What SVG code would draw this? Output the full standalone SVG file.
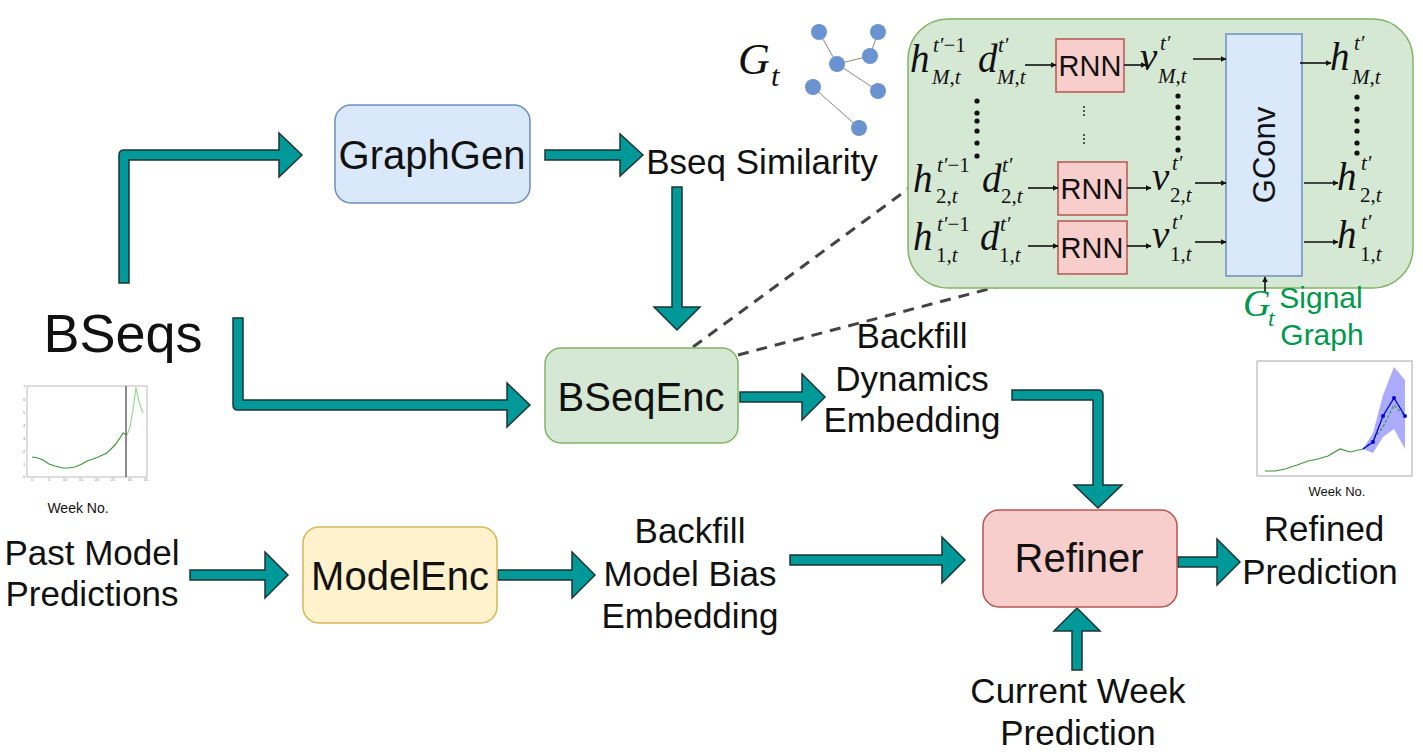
<svg xmlns="http://www.w3.org/2000/svg" width="1423" height="755" viewBox="0 0 1423 755">
<style>
.lbl{font-family:"Liberation Sans",Arial,sans-serif;font-size:35px;fill:#111;text-anchor:middle}
.box{font-family:"Liberation Sans",Arial,sans-serif;font-size:40px;fill:#111;text-anchor:middle}
.ar{fill:#009999;stroke:#1d3535;stroke-width:1.5;stroke-linejoin:miter}
.m{font-family:"Liberation Serif","DejaVu Serif",serif;font-style:italic;font-size:39px;fill:#111}
.s{font-family:"Liberation Serif","DejaVu Serif",serif;font-style:italic;font-size:21px;fill:#111}
.up{font-style:normal}
.thin{stroke:#111;stroke-width:1.6;fill:none;marker-end:url(#ah)}
.dot{fill:#111}
.dash{stroke:#444;stroke-width:3;stroke-dasharray:11 8;fill:none}
.tick{font-family:"Liberation Sans",Arial,sans-serif;font-size:4px;fill:#888;text-anchor:middle}
.gn{fill:#6a93cf}
.ge{stroke:#888;stroke-width:1;fill:none}
</style>
<defs>
<marker id="ah" viewBox="0 0 10 10" refX="9" refY="5" markerWidth="6" markerHeight="6" orient="auto" markerUnits="userSpaceOnUse">
<path d="M0,0 L10,5 L0,10 Z" fill="#111"/>
</marker>
</defs>
<rect width="1423" height="755" fill="#fff"/>

<!-- connectors -->
<g id="connectors">
<path class="ar" d="M119,283 L119,155 Q119,150 124,150 L279,150 L279,133 L302,155 L279,177 L279,160 L129,160 L129,283 Z"/>
<path class="ar" d="M545,150 L620,150 L620,134 L643,155 L620,176 L620,160 L545,160 Z"/>
<path class="ar" d="M672,187 L682,187 L682,307 L700,307 L677,330 L654,307 L672,307 Z"/>
<path class="ar" d="M233,318 L243,318 L243,400 L507,400 L507,383 L530,405 L507,427 L507,410 L238,410 Q233,410 233,405 Z"/>
<path class="ar" d="M740,392 L802,392 L802,374 L825,397 L802,420 L802,402 L740,402 Z"/>
<path class="ar" d="M1012,390 L1098,390 Q1103,390 1103,395 L1103,485 L1122,485 L1098,508 L1074,485 L1093,485 L1093,400 L1012,400 Z"/>
<path class="ar" d="M790,555 L942,555 L942,537 L965,560 L942,583 L942,565 L790,565 Z"/>
<path class="ar" d="M1178,557 L1217,557 L1217,539 L1240,562 L1217,585 L1217,567 L1178,567 Z"/>
<path class="ar" d="M1072,670 L1072,631 L1054,631 L1077,608 L1100,631 L1082,631 L1082,670 Z"/>
<path class="ar" d="M190,570 L265,570 L265,552 L288,575 L265,598 L265,580 L190,580 Z"/>
<path class="ar" d="M498,570 L572,570 L572,552 L595,575 L572,598 L572,580 L498,580 Z"/>
<line class="dash" x1="693" y1="347" x2="912" y2="186"/>
<line class="dash" x1="738" y1="355" x2="1057" y2="271"/>
</g>

<!-- nodes -->
<g id="graphgen">
<rect x="335" y="105" width="195" height="98" rx="16" fill="#dae8fc" stroke="#6c8ebf" stroke-width="1.5"/>
<text class="box" x="432" y="169">GraphGen</text>
</g>
<g id="bseqenc">
<rect x="545" y="348" width="193" height="95" rx="16" fill="#d5e8d4" stroke="#82b366" stroke-width="1.5"/>
<text class="box" x="641" y="411">BSeqEnc</text>
</g>
<g id="modelenc">
<rect x="303" y="527" width="194" height="96" rx="16" fill="#fff2cc" stroke="#d6b656" stroke-width="1.5"/>
<text class="box" x="400" y="590">ModelEnc</text>
</g>
<g id="refiner">
<rect x="983" y="510" width="194" height="97" rx="16" fill="#f8cecc" stroke="#b85450" stroke-width="1.5"/>
<text class="box" x="1079" y="572">Refiner</text>
</g>

<g id="labels">
<text class="lbl" x="123" y="352" style="font-size:54px">BSeqs</text>
<text class="lbl" x="762" y="174">Bseq Similarity</text>
<text class="lbl" x="912" y="348">Backfill</text>
<text class="lbl" x="912" y="391">Dynamics</text>
<text class="lbl" x="912" y="432">Embedding</text>
<text class="lbl" x="92" y="565">Past Model</text>
<text class="lbl" x="92" y="606">Predictions</text>
<text class="lbl" x="690" y="543">Backfill</text>
<text class="lbl" x="690" y="586">Model Bias</text>
<text class="lbl" x="690" y="628">Embedding</text>
<text class="lbl" x="1324" y="541">Refined</text>
<text class="lbl" x="1320" y="584">Prediction</text>
<text class="lbl" x="1078" y="703">Current Week</text>
<text class="lbl" x="1078" y="745">Prediction</text>
</g>

<!-- graph G_t -->
<g id="graph-gt">
<text class="m" x="738" y="74" style="font-size:44px">G</text>
<text class="s" x="771" y="86" style="font-size:30px">t</text>
<line class="ge" x1="819" y1="32" x2="837" y2="64"/>
<polyline class="ge" points="878,32 870,56 837,64"/>
<line class="ge" x1="837" y1="64" x2="878" y2="91"/>
<line class="ge" x1="813" y1="87" x2="859" y2="128"/>
<circle class="gn" cx="819" cy="32" r="8"/>
<circle class="gn" cx="878" cy="32" r="8"/>
<circle class="gn" cx="870" cy="56" r="8"/>
<circle class="gn" cx="837" cy="64" r="8"/>
<circle class="gn" cx="813" cy="87" r="8"/>
<circle class="gn" cx="878" cy="91" r="8"/>
<circle class="gn" cx="859" cy="128" r="8"/>
</g>

<!-- encoder detail -->
<g id="bseqenc-detail">
<rect x="908" y="19" width="505" height="269" rx="40" fill="#d5e8d4" stroke="#82b366" stroke-width="1.5"/>
<g id="rnn-m"><rect x="1056" y="39" width="68" height="53" fill="#f8cecc" stroke="#b85450" stroke-width="1.5"/><text class="box" style="font-size:29px" x="1090" y="76">RNN</text></g>
<g id="rnn-2"><rect x="1058" y="162" width="69" height="53" fill="#f8cecc" stroke="#b85450" stroke-width="1.5"/><text class="box" style="font-size:29px" x="1092" y="199">RNN</text></g>
<g id="rnn-1"><rect x="1058" y="221" width="69" height="53" fill="#f8cecc" stroke="#b85450" stroke-width="1.5"/><text class="box" style="font-size:29px" x="1092" y="258">RNN</text></g>
<g id="gconv"><rect x="1226" y="34" width="76" height="242" fill="#dae8fc" stroke="#6c8ebf" stroke-width="1.5"/><text class="box" style="font-size:31px" x="0" y="0" transform="translate(1275,155) rotate(-90)">GConv</text></g>

<!-- row M -->
<text class="m" x="910" y="72">h</text><text class="s" x="933" y="52">t′<tspan class="up">−1</tspan></text><text class="s" x="932" y="84">M<tspan class="up">,</tspan>t</text>
<text class="m" x="978" y="72">d</text><text class="s" x="998" y="52">t′</text><text class="s" x="997" y="84">M<tspan class="up">,</tspan>t</text>
<text class="m" x="1140" y="70">v</text><text class="s" x="1160" y="50">t′</text><text class="s" x="1158" y="83">M<tspan class="up">,</tspan>t</text>
<text class="m" x="1330" y="70">h</text><text class="s" x="1354" y="50">t′</text><text class="s" x="1352" y="84">M<tspan class="up">,</tspan>t</text>
<!-- row 2 -->
<text class="m" x="913" y="192">h</text><text class="s" x="937" y="172">t′<tspan class="up">−1</tspan></text><text class="s" x="936" y="203"><tspan class="up">2,</tspan>t</text>
<text class="m" x="982" y="192">d</text><text class="s" x="1002" y="172">t′</text><text class="s" x="1001" y="203"><tspan class="up">2,</tspan>t</text>
<text class="m" x="1152" y="190">v</text><text class="s" x="1172" y="170">t′</text><text class="s" x="1170" y="202"><tspan class="up">2,</tspan>t</text>
<text class="m" x="1337" y="190">h</text><text class="s" x="1361" y="170">t′</text><text class="s" x="1360" y="202"><tspan class="up">2,</tspan>t</text>
<!-- row 1 -->
<text class="m" x="913" y="250">h</text><text class="s" x="937" y="231">t′<tspan class="up">−1</tspan></text><text class="s" x="936" y="262"><tspan class="up">1,</tspan>t</text>
<text class="m" x="980" y="250">d</text><text class="s" x="1000" y="231">t′</text><text class="s" x="999" y="262"><tspan class="up">1,</tspan>t</text>
<text class="m" x="1152" y="248">v</text><text class="s" x="1172" y="229">t′</text><text class="s" x="1170" y="261"><tspan class="up">1,</tspan>t</text>
<text class="m" x="1337" y="248">h</text><text class="s" x="1361" y="229">t′</text><text class="s" x="1360" y="261"><tspan class="up">1,</tspan>t</text>

<line class="thin" x1="1025" y1="65" x2="1056" y2="65"/>
<line class="thin" x1="1124" y1="65" x2="1146" y2="65"/>
<line class="thin" x1="1193" y1="59" x2="1226" y2="59"/>
<line class="thin" x1="1300" y1="63" x2="1331" y2="63"/>
<line class="thin" x1="1028" y1="188" x2="1058" y2="188"/>
<line class="thin" x1="1127" y1="188" x2="1151" y2="188"/>
<line class="thin" x1="1195" y1="183" x2="1226" y2="183"/>
<line class="thin" x1="1304" y1="183" x2="1338" y2="183"/>
<line class="thin" x1="1028" y1="246" x2="1058" y2="246"/>
<line class="thin" x1="1127" y1="246" x2="1151" y2="246"/>
<line class="thin" x1="1195" y1="242" x2="1226" y2="242"/>
<line class="thin" x1="1304" y1="242" x2="1338" y2="242"/>

<g class="dot">
<circle cx="977" cy="101" r="2.6"/><circle cx="977" cy="113" r="2.6"/><circle cx="977" cy="121" r="2.6"/><circle cx="977" cy="131" r="2.6"/><circle cx="977" cy="143" r="2.6"/><circle cx="977" cy="156" r="2.6"/>
<circle cx="1178" cy="96" r="2.6"/><circle cx="1178" cy="107" r="2.6"/><circle cx="1178" cy="118" r="2.6"/><circle cx="1178" cy="128" r="2.6"/><circle cx="1178" cy="138" r="2.6"/><circle cx="1178" cy="150" r="2.6"/>
<circle cx="1357" cy="97" r="2.6"/><circle cx="1357" cy="109" r="2.6"/><circle cx="1357" cy="121" r="2.6"/><circle cx="1357" cy="131" r="2.6"/><circle cx="1357" cy="143" r="2.6"/><circle cx="1357" cy="153" r="2.6"/>
<circle cx="1084" cy="107" r="0.9"/><circle cx="1084" cy="111" r="0.9"/><circle cx="1084" cy="115" r="0.9"/>
<circle cx="1084" cy="135" r="0.9"/><circle cx="1084" cy="139" r="0.9"/><circle cx="1084" cy="143" r="0.9"/>
</g>
<line class="thin" x1="1265" y1="292" x2="1265" y2="277"/>
<text class="m" x="1243" y="316" style="fill:#00994c;font-size:38px">G</text>
<text class="s" x="1268" y="326" style="fill:#00994c;font-size:24px">t</text>
<text class="lbl" x="1321" y="308" style="fill:#00994c;font-size:30px">Signal</text>
<text class="lbl" x="1322" y="345" style="fill:#00994c;font-size:30px">Graph</text>
</g>

<!-- left chart -->
<g id="chart-left">
<rect x="27" y="386" width="120" height="91" fill="#fff" stroke="#bbb" stroke-width="1"/>
<polyline points="32,457 38,458 43,460 49,464 55,466 63,468 68,468 75,467 82,464 87,461 93,459 98,457 107,453 115,445 120,438 123,433 127,435" fill="none" stroke="#3a9a3a" stroke-width="1.2"/>
<polyline points="127,435 130,427 133,410 136,387 139,402 143,413" fill="none" stroke="#99d699" stroke-width="1.2"/>
<line x1="126" y1="386" x2="126" y2="477" stroke="#666" stroke-width="1.5"/>
<text class="tick" x="32" y="481">0</text><text class="tick" x="49" y="481">5</text><text class="tick" x="65" y="481">10</text><text class="tick" x="81" y="481">15</text><text class="tick" x="97" y="481">20</text><text class="tick" x="113" y="481">25</text><text class="tick" x="130" y="481">30</text><text class="tick" x="146" y="481">35</text>
<text class="tick" x="24" y="478">0</text><text class="tick" x="24" y="466">1</text><text class="tick" x="24" y="453">2</text><text class="tick" x="24" y="440">3</text><text class="tick" x="24" y="427">4</text><text class="tick" x="24" y="414">5</text><text class="tick" x="24" y="401">6</text><text class="tick" x="24" y="388">7</text>
<text class="lbl" x="78" y="513" style="font-size:14px">Week No.</text>
</g>

<!-- right chart -->
<g id="chart-right">
<rect x="1257" y="361" width="155" height="115" fill="#fff" stroke="#aaa" stroke-width="1"/>
<polygon points="1363,449 1373,453 1383,437 1394,429 1405,449 1405,380 1394,367 1383,395 1373,433" fill="#8080ff" fill-opacity="0.65"/>
<polyline points="1265,471 1275,471 1285,469 1297,465 1308,461 1318,459 1328,456 1340,449 1350,452 1363,449" fill="none" stroke="#3a9a3a" stroke-width="1.2"/>
<polyline points="1363,449 1373,440 1383,427 1394,405 1405,416" fill="none" stroke="#3a9a3a" stroke-width="1.2" stroke-dasharray="3 2"/>
<polyline points="1363,449 1373,442 1383,416 1394,398 1405,416" fill="none" stroke="#0000ee" stroke-width="1.3"/>
<g fill="#0000ee"><circle cx="1373" cy="442" r="2"/><circle cx="1383" cy="416" r="2"/><circle cx="1394" cy="398" r="2"/><circle cx="1405" cy="416" r="2"/></g>
<text class="lbl" x="1337" y="496" style="font-size:13px">Week No.</text>
</g>
</svg>
